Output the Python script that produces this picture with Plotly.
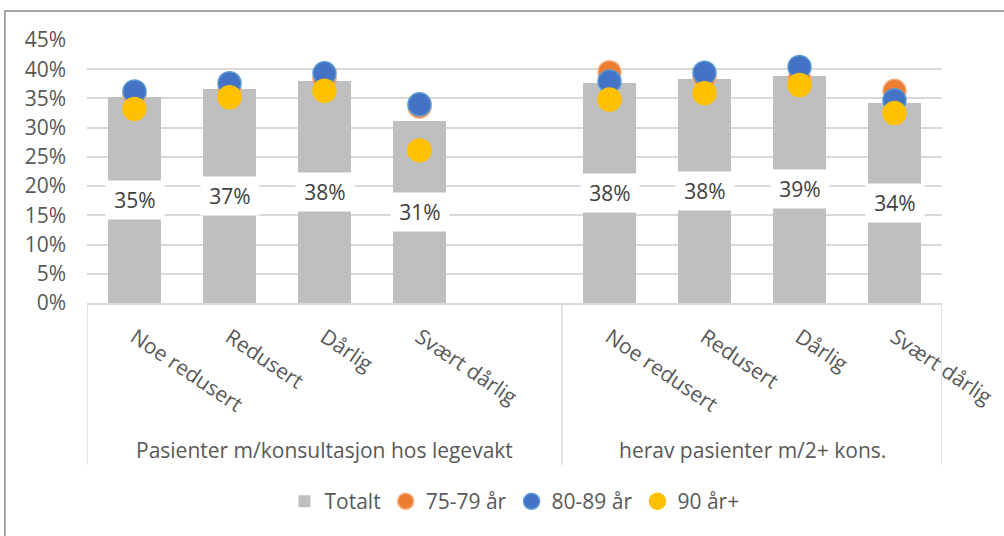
import plotly.graph_objects as go

# Data (shares, 0-1)
grupper = ["Pasienter m/konsultasjon hos legevakt", "herav pasienter m/2+ kons."]
kategorier = ["Noe redusert", "Redusert", "Dårlig", "Svært dårlig"]

totalt = [[0.353, 0.366, 0.380, 0.312], [0.376, 0.383, 0.389, 0.342]]
aar_75_79 = [[0.357, 0.363, 0.383, 0.336], [0.395, 0.387, 0.382, 0.363]]
aar_80_89 = [[0.362, 0.376, 0.393, 0.340], [0.379, 0.394, 0.404, 0.347]]
aar_90 = [[0.332, 0.352, 0.363, 0.261], [0.348, 0.359, 0.373, 0.325]]

FONT = "Open Sans, sans-serif"
TXT = "#595959"
GRID = "#D9D9D9"
FS = 21

# slot positions: group 1 has an empty fifth slot, like the Excel source
slots_per_group = [len(kategorier) + 1, len(kategorier)]
xpos, xtext, starts = [], [], []
pos = 0
for g, n in enumerate(slots_per_group):
    starts.append(pos)
    for i, k in enumerate(kategorier):
        xpos.append(pos + i)
        xtext.append(k)
    pos += n


def flat(series):
    return [v for grp in series for v in grp]


fig = go.Figure()
fig.add_trace(go.Bar(
    x=xpos, y=flat(totalt), name="Totalt",
    marker=dict(color="#BFBFBF", line_width=0), width=0.55,
))

for name, vals, col, edge in [
    ("75-79 år", aar_75_79, "#ED7D31", "#F4B183"),
    ("80-89 år", aar_80_89, "#4472C4", "#5B9BD5"),
    ("90 år+", aar_90, "#FFC000", "#FFC000"),
]:
    fig.add_trace(go.Scatter(
        x=xpos, y=flat(vals), name=name, mode="markers",
        marker=dict(color=col, size=23, line=dict(color=edge, width=1.5)),
    ))

# data labels with white boxes in the middle of each bar
for x, v in zip(xpos, flat(totalt)):
    fig.add_annotation(
        x=x, y=v / 2, text=f"{v * 100:.0f}%", showarrow=False,
        font=dict(family=FONT, size=FS, color="#404040"),
        bgcolor="white", borderpad=0, width=58, height=38,
    )

# group labels and dividers under the axis
ends = [s + n for s, n in zip(starts, slots_per_group)]
for g, s, e in zip(grupper, starts, ends):
    fig.add_annotation(
        x=(s + e - 1) / 2, y=-0.558, yref="paper", text=g, showarrow=False,
        font=dict(family=FONT, size=FS, color=TXT), yanchor="middle",
    )
for xd in [starts[0] - 0.5] + [e - 0.5 for e in ends]:
    fig.add_shape(type="line", xref="x", yref="paper", x0=xd, x1=xd,
                  y0=0, y1=-0.615, line=dict(color=GRID, width=1.5))

# outer chart border (cropped like the reference)
fig.add_shape(type="rect", xref="paper", yref="paper",
              x0=-0.096, x1=1.09, y0=-0.95, y1=1.11,
              line=dict(color="#8C8C8C", width=1.5))

fig.update_layout(
    width=1004, height=536,
    paper_bgcolor="white", plot_bgcolor="white",
    margin=dict(l=87, r=62, t=40, b=233),
    font=dict(family=FONT, size=FS, color=TXT),
    bargap=0,
    showlegend=True,
    legend=dict(orientation="h", x=0.5, xanchor="center", y=-0.755,
                yanchor="middle", font=dict(size=FS, color=TXT),
                itemwidth=30, traceorder="normal"),
    xaxis=dict(
        range=[-0.5, pos - 0.5], tickmode="array", tickvals=xpos, ticktext=xtext,
        tickangle=34, showgrid=False, zeroline=False, automargin=False,
        showline=True, linecolor=GRID, linewidth=1.5,
        tickfont=dict(size=FS, color=TXT), ticklabelstandoff=12,
    ),
    yaxis=dict(
        range=[0, 0.45], dtick=0.05, tickformat=".0%", automargin=False,
        showgrid=True, gridcolor=GRID, gridwidth=1.5, zeroline=False,
        tickfont=dict(size=FS, color=TXT), ticklabelstandoff=20,
    ),
)

fig.write_html("out.html", config={"displayModeBar": False},
               post_script="document.body.style.margin='0';")
